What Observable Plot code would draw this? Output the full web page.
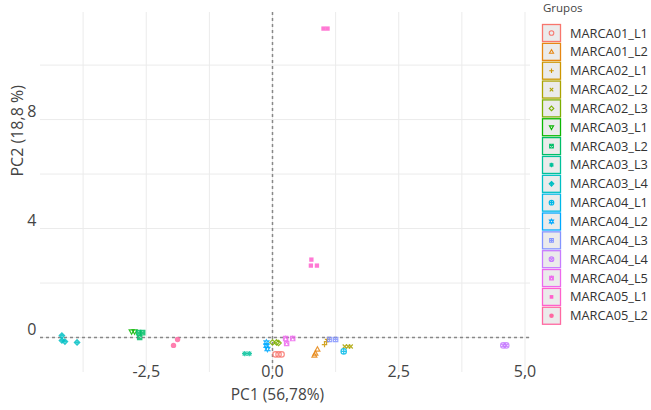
<!DOCTYPE html>
<html><head><meta charset="utf-8">
<script src="https://cdn.jsdelivr.net/npm/d3@7"></script>
<script src="https://cdn.jsdelivr.net/npm/@observablehq/plot@0.6"></script>
<style>
body{margin:0;background:#fff;font-family:"Open Sans",sans-serif;}
#wrap{position:relative;width:651px;height:410px;overflow:hidden;}
#legend{position:absolute;left:535px;top:0;}
</style></head><body><div id="wrap"><div id="chart"></div><svg id="legend" width="116" height="340"></svg></div>
<script>
const grupos = ["MARCA01_L1","MARCA01_L2","MARCA02_L1","MARCA02_L2","MARCA02_L3","MARCA03_L1","MARCA03_L2","MARCA03_L3","MARCA03_L4","MARCA04_L1","MARCA04_L2","MARCA04_L3","MARCA04_L4","MARCA04_L5","MARCA05_L1","MARCA05_L2"];
const colores = ["#F8766D","#E68613","#CD9600","#ABA300","#7CAE00","#0CB702","#00BE67","#00C19A","#00BFC4","#00B8E7","#00A9FF","#8494FF","#C77CFF","#ED68ED","#FF61CC","#FF68A1"];
const formas = [1,2,3,4,5,6,7,8,9,10,11,12,13,14,15,16];
const rellenas = [15,16];
const puntoGrupo = [
  "MARCA01_L1","MARCA01_L1","MARCA01_L1",
  "MARCA01_L2","MARCA01_L2","MARCA01_L2",
  "MARCA02_L1","MARCA02_L1","MARCA02_L1",
  "MARCA02_L2","MARCA02_L2","MARCA02_L2",
  "MARCA02_L3","MARCA02_L3","MARCA02_L3",
  "MARCA03_L1","MARCA03_L1",
  "MARCA03_L2","MARCA03_L2","MARCA03_L2",
  "MARCA03_L3","MARCA03_L3",
  "MARCA03_L4","MARCA03_L4","MARCA03_L4","MARCA03_L4",
  "MARCA04_L1",
  "MARCA04_L2","MARCA04_L2","MARCA04_L2",
  "MARCA04_L3","MARCA04_L3",
  "MARCA04_L4","MARCA04_L4",
  "MARCA04_L5","MARCA04_L5","MARCA04_L5",
  "MARCA05_L1","MARCA05_L1","MARCA05_L1","MARCA05_L1","MARCA05_L1",
  "MARCA05_L2","MARCA05_L2"];
const puntoPC1 = [
  0.06,0.12,0.18,
  0.89,0.85,0.83,
  1.09,1.03,1.07,
  1.43,1.50,1.55,
  0.00,0.08,0.12,
  -2.79,-2.73,
  -2.65,-2.57,-2.63,
  -0.55,-0.46,
  -4.17,-4.17,-4.11,-3.87,
  1.41,
  -0.12,-0.12,-0.10,
  1.13,1.25,
  4.57,4.63,
  0.26,0.40,0.28,
  1.01,1.09,0.77,0.76,0.88,
  -1.88,-1.96];
const puntoPC2 = [
  -0.62,-0.62,-0.62,
  -0.44,-0.59,-0.66,
  -0.07,-0.26,-0.15,
  -0.33,-0.33,-0.33,
  -0.18,-0.18,-0.20,
  0.22,0.22,
  0.18,0.18,0.00,
  -0.59,-0.59,
  0.07,-0.11,-0.15,-0.18,
  -0.51,
  -0.18,-0.30,-0.42,
  -0.07,-0.07,
  -0.29,-0.29,
  -0.04,-0.04,-0.22,
  11.34,11.34,2.86,2.64,2.64,
  -0.07,-0.29];
const ticksX = [-2.5, 0, 2.5, 5.0];
const ticksY = [0, 4, 8];
const rejillaX = [-3.75,-2.5,-1.25,0,1.25,2.5,3.75,5.0];
const rejillaY = [0,2,4,6,8,10];
const tituloX = "PC1 (56,78%)";
const tituloY = "PC2 (18,8 %)";
const tituloLeyenda = "Grupos";

// ggplot-like shapes as custom symbol types
function sym(f){ return {draw(ctx,size){ const r=Math.sqrt(size/Math.PI); f(ctx,r); }}; }
const circ=(c,r)=>{c.moveTo(r,0);c.arc(0,0,r,0,2*Math.PI);};
const plus=(c,r)=>{c.moveTo(-r,0);c.lineTo(r,0);c.moveTo(0,-r);c.lineTo(0,r);};
const cross=(c,r)=>{const k=r*0.75;c.moveTo(-k,-k);c.lineTo(k,k);c.moveTo(-k,k);c.lineTo(k,-k);};
const sq=(c,r)=>{const k=r*0.8;c.moveTo(-k,-k);c.lineTo(k,-k);c.lineTo(k,k);c.lineTo(-k,k);c.closePath();};
const dia=(c,r)=>{c.moveTo(0,-r);c.lineTo(r,0);c.lineTo(0,r);c.lineTo(-r,0);c.closePath();};
const triU=(c,r)=>{c.moveTo(0,-r);c.lineTo(r*0.9,r*0.6);c.lineTo(-r*0.9,r*0.6);c.closePath();};
const triD=(c,r)=>{c.moveTo(0,r);c.lineTo(r*0.9,-r*0.6);c.lineTo(-r*0.9,-r*0.6);c.closePath();};
const simbolos = {
  1: sym(circ),
  2: sym(triU),
  3: sym(plus),
  4: sym(cross),
  5: sym(dia),
  6: sym(triD),
  7: sym((c,r)=>{sq(c,r);const k=r*0.8;c.moveTo(-k,-k);c.lineTo(k,k);c.moveTo(-k,k);c.lineTo(k,-k);}),
  8: sym((c,r)=>{plus(c,r);cross(c,r);}),
  9: sym((c,r)=>{dia(c,r);plus(c,r);}),
  10: sym((c,r)=>{circ(c,r);plus(c,r);}),
  11: sym((c,r)=>{triU(c,r);triD(c,r);}),
  12: sym((c,r)=>{sq(c,r);const k=r*0.8;c.moveTo(-k,0);c.lineTo(k,0);c.moveTo(0,-k);c.lineTo(0,k);}),
  13: sym((c,r)=>{circ(c,r);const k=r*0.7;c.moveTo(-k,-k);c.lineTo(k,k);c.moveTo(-k,k);c.lineTo(k,-k);}),
  14: sym((c,r)=>{sq(c,r);const k=r*0.8;c.moveTo(-k,k);c.lineTo(0,-k);c.lineTo(k,k);}),
  15: sym(sq),
  16: sym(circ)
};

const datos = puntoGrupo.map((g,i)=>({g, x: puntoPC1[i], y: puntoPC2[i], f: formas[grupos.indexOf(g)]}));
const esRellena = d => rellenas.includes(d.f);
const fmt = d => d.toFixed(1).replace(".", ",");
const font = '"Open Sans", sans-serif';

const chart = Plot.plot({
  width: 651, height: 410,
  marginLeft: 40, marginRight: 121, marginTop: 12, marginBottom: 38,
  style: {fontFamily: font, background: "#fff"},
  x: {domain: [-4.594, 5.109]},
  y: {domain: [-1.284, 11.93]},
  color: {domain: grupos, range: colores},
  symbol: {domain: grupos, range: formas.map(f=>simbolos[f])},
  marks: [
    Plot.gridX(rejillaX, {stroke: "#ebebeb", strokeOpacity: 1, strokeWidth: 1}),
    Plot.gridY(rejillaY, {stroke: "#ebebeb", strokeOpacity: 1, strokeWidth: 1}),
    Plot.ruleX([0], {stroke: "#888", strokeWidth: 1.5, strokeDasharray: "3,3"}),
    Plot.ruleY([0], {stroke: "#888", strokeWidth: 1.5, strokeDasharray: "3,3"}),
    Plot.dot(datos.filter(d=>!esRellena(d)), {x: "x", y: "y", stroke: "g", symbol: "g", r: 2.7, strokeWidth: 1.2, strokeOpacity: 0.85}),
    Plot.dot(datos.filter(esRellena), {x: "x", y: "y", fill: "g", symbol: "g", r: 2.7, fillOpacity: 0.85}),
    Plot.axisX(ticksX, {tickSize: 0, tickPadding: 0, dy: -7, tickFormat: fmt, fontSize: 16, fill: "#444", label: null}),
    Plot.axisY(ticksY, {tickSize: 0, tickPadding: 4, dy: -8, tickFormat: d=>String(d), fontSize: 16, fill: "#444", label: null}),
    Plot.text([tituloX], {frameAnchor: "bottom", dy: 27, dx: -8, fontSize: 15.5, fill: "#444"}),
    Plot.text([tituloY], {frameAnchor: "left", rotate: -90, dx: -23, dy: -16, fontSize: 16, fill: "#444"})
  ]
});
document.getElementById("chart").appendChild(chart);

// legend
const lg = d3.select("#legend");
lg.append("text").attr("x", 8).attr("y", 12).attr("font-family", font).attr("font-size", 11.5).attr("fill", "#444").text(tituloLeyenda);
grupos.forEach((g,i)=>{
  const cy = 33 + i*18.85;
  const row = lg.append("g");
  row.append("rect").attr("x", 7.5).attr("y", cy-8.5).attr("width", 18).attr("height", 17)
    .attr("fill", "#ebebeb").attr("stroke", colores[i]).attr("stroke-width", 1.3);
  const filled = rellenas.includes(formas[i]);
  row.append("path").attr("transform", `translate(16.5,${cy})`)
    .attr("d", d3.symbol(simbolos[formas[i]], Math.PI*2.3*2.3)())
    .attr("fill", filled ? colores[i] : "none").attr("stroke", filled ? "none" : colores[i]).attr("stroke-width", 1.1);
  row.append("text").attr("x", 35).attr("y", cy+4.5).attr("font-family", font).attr("font-size", 12.8).attr("fill", "#333").text(g);
});
</script></body></html>
